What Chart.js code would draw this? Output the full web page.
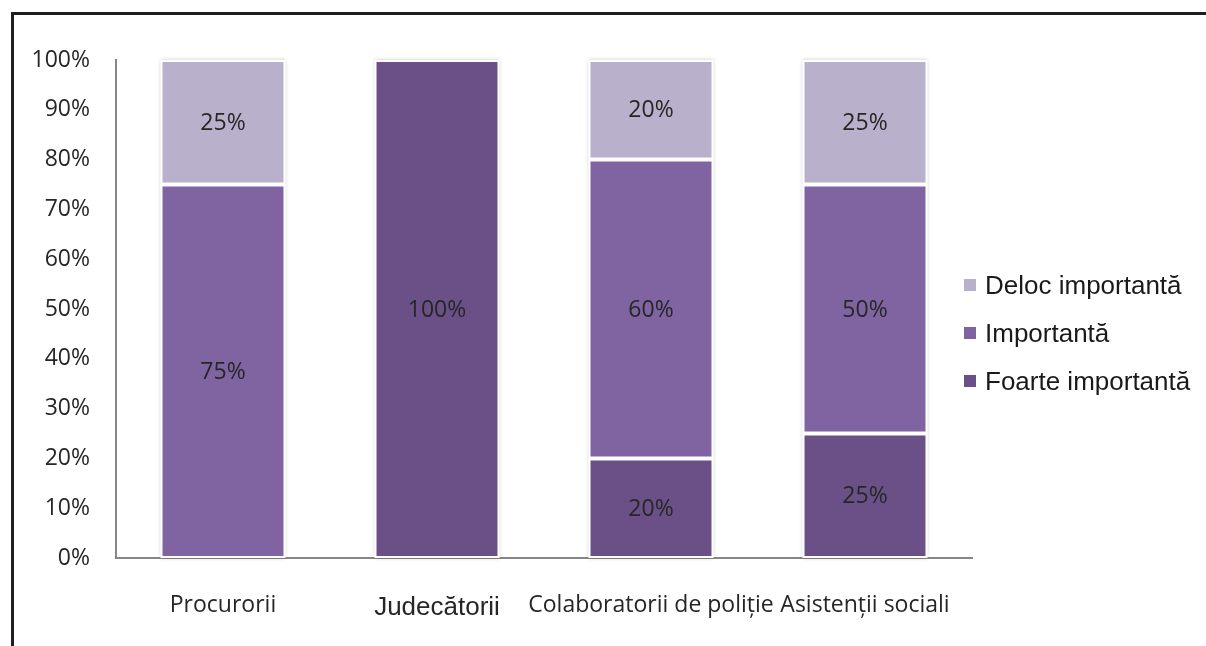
<!DOCTYPE html>
<html lang="ro">
<head>
<meta charset="utf-8">
<title>Importanță</title>
<script src="https://cdn.jsdelivr.net/npm/chart.js@4.4.1/dist/chart.umd.min.js"></script>
<style>
    html, body { margin: 0; padding: 0; background: #fff; }
    #wrap { position: relative; width: 1206px; height: 646px; overflow: hidden; }
    #frame { position: absolute; left: 11px; top: 12px; width: 1300px; height: 700px;
             border-top: 3px solid #1e1e1e; border-left: 3px solid #1e1e1e; pointer-events: none; }
    #legend { position: absolute; left: 964px; top: 261px; font-family: 'Liberation Sans', Arial, sans-serif;
              font-size: 26px; color: #1a1a1a; }
    #legend div { display: flex; align-items: center; height: 48px; }
    #legend span.box { width: 12px; height: 12px; margin-right: 9px; display: inline-block; }
</style>
</head>
<body>
<div id="wrap">
    <canvas id="chart" width="1206" height="646"></canvas>
    <div id="legend"></div>
    <div id="frame"></div>
</div>
<script>
// Date
const categories = ['Procurorii', 'Judecătorii', 'Colaboratorii de poliție', 'Asistenții sociali'];
const foarteImportanta = [0, 100, 20, 25];
const importanta = [75, 0, 60, 50];
const delocImportanta = [25, 0, 20, 25];
const yTicks = [0, 10, 20, 30, 40, 50, 60, 70, 80, 90, 100];

const series = [
    { label: 'Foarte importantă', data: foarteImportanta, color: '#6a5087' },
    { label: 'Importantă', data: importanta, color: '#7f64a1' },
    { label: 'Deloc importantă', data: delocImportanta, color: '#b9b0cb' },
];

// Legenda (ordine inversa, ca in original)
document.getElementById('legend').innerHTML = series.slice().reverse().map(s => `
    <div><span class="box" style="background:${s.color}"></span>${s.label}</div>
`).join('');

// umbra usoara sub fiecare coloana
const barShadow = {
    id: 'barShadow',
    beforeDatasetsDraw(chart) {
        const ctx = chart.ctx;
        const metas = chart.getSortedVisibleDatasetMetas();
        categories.forEach((_, i) => {
            let top = Infinity, bottom = -Infinity, left = 0, right = 0;
            metas.forEach(m => {
                const el = m.data[i];
                if (!el || m._parsed[i].y === 0) return;
                const p = el.getProps(['x', 'y', 'base', 'width'], true);
                top = Math.min(top, p.y, p.base);
                bottom = Math.max(bottom, p.y, p.base);
                left = p.x - p.width / 2;
                right = p.x + p.width / 2;
            });
            if (top === Infinity) return;
            ctx.save();
            ctx.shadowColor = 'rgba(0,0,0,0.22)';
            ctx.shadowBlur = 4;
            ctx.fillStyle = '#fff';
            ctx.fillRect(left, top, right - left, bottom - top);
            ctx.restore();
        });
    }
};

// etichete procente in segmente
const segmentLabels = {
    id: 'segmentLabels',
    afterDatasetsDraw(chart) {
        const ctx = chart.ctx;
        ctx.save();
        ctx.font = '23px "Open Sans"';
        ctx.fillStyle = '#262626';
        ctx.textAlign = 'center';
        ctx.textBaseline = 'middle';
        chart.getSortedVisibleDatasetMetas().forEach(m => {
            m.data.forEach((el, i) => {
                const v = chart.data.datasets[m.index].data[i];
                if (!v) return;
                const p = el.getProps(['x', 'y', 'base'], true);
                ctx.fillText(v + '%', p.x, (p.y + p.base) / 2 + 1);
            });
        });
        ctx.restore();
    }
};

new Chart(document.getElementById('chart'), {
    type: 'bar',
    data: {
        labels: categories,
        datasets: series.map(s => ({
            label: s.label,
            data: s.data,
            backgroundColor: s.color,
            borderColor: '#ffffff',
            borderWidth: 2,
            borderSkipped: false,
            categoryPercentage: 1,
            barPercentage: 0.584
        }))
    },
    options: {
        responsive: false,
        animation: false,
        layout: { padding: { top: 60, right: 234, left: 0, bottom: 0 } },
        plugins: { legend: { display: false }, tooltip: { enabled: false } },
        scales: {
            x: {
                stacked: true,
                grid: { display: false, drawTicks: false },
                border: { display: true, color: '#868686', width: 2 },
                ticks: {
                    autoSkip: false, maxRotation: 0, minRotation: 0,
                    padding: 34, color: '#262626',
                    font: c => c.index === 1
                        ? { family: 'Liberation Sans', size: 26 }
                        : { family: 'Open Sans', size: 23 }
                },
                afterFit(scale) { scale.height = 88; }
            },
            y: {
                stacked: true, min: 0, max: 100,
                afterBuildTicks(scale) { scale.ticks = yTicks.map(v => ({ value: v })); },
                grid: { display: false, drawTicks: false },
                border: { display: true, color: '#868686', width: 2 },
                ticks: {
                    padding: 26, color: '#262626',
                    font: { family: 'Open Sans', size: 23 },
                    callback: v => v + '%'
                },
                afterFit(scale) { scale.width = 116; }
            }
        }
    },
    plugins: [barShadow, segmentLabels]
});
</script>
</body>
</html>
